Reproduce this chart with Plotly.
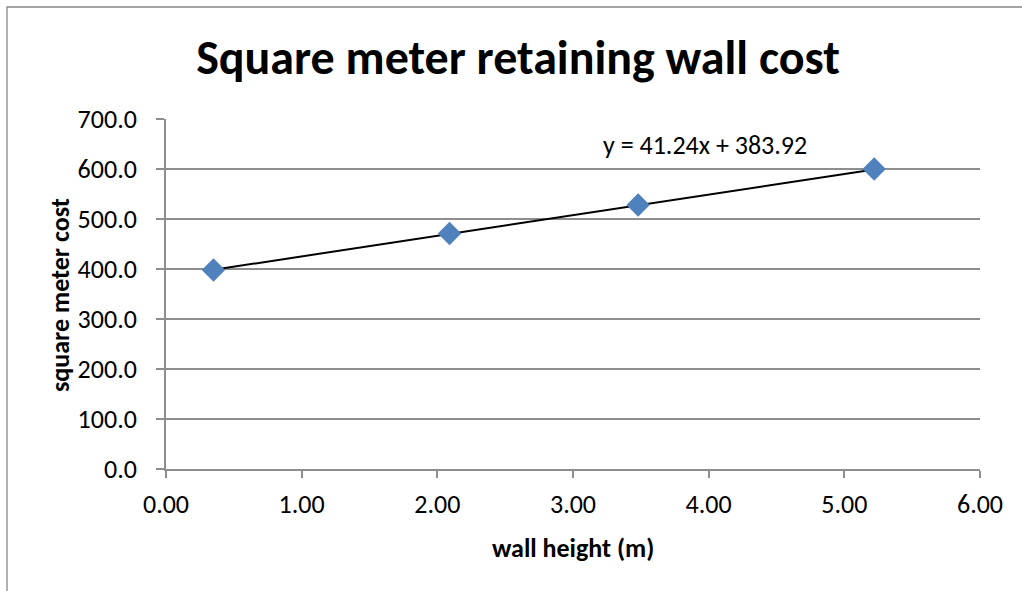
import plotly.graph_objects as go

wall_height = [0.35, 2.09, 3.48, 5.22]
sqm_cost = [398.0, 471.0, 528.0, 600.0]
slope = 41.24
intercept = 383.92
title = "Square meter retaining wall cost"
x_title = "wall height (m)"
y_title = "square meter cost"
equation = "y = 41.24x + 383.92"

FONT = "Carlito, Lato, sans-serif"
GRID = "#8e8e8e"
L, R, T, B = 166, 980, 119, 469
W, H = 1022, 591
PW, PH = R - L, B - T


def px(x):
    return (x - L) / PW


def py(y):
    return (B - y) / PH


trend_x = [min(wall_height), max(wall_height)]
trend_y = [slope * v + intercept for v in trend_x]

fig = go.Figure()
fig.add_trace(go.Scatter(x=trend_x, y=trend_y, mode="lines",
                         line=dict(color="black", width=2), hoverinfo="skip"))
fig.add_trace(go.Scatter(x=wall_height, y=sqm_cost, mode="markers",
                         marker=dict(symbol="diamond", size=18, color="#4F81BD",
                                     line=dict(width=0))))

fig.update_layout(
    width=W, height=H,
    margin=dict(l=L, r=W - R, t=T, b=H - B),
    paper_bgcolor="white", plot_bgcolor="white",
    showlegend=False,
    font=dict(family=FONT, color="black"),
    title=dict(text="<b>" + title + "</b>", x=518 / W, xanchor="center",
               xref="container",
               y=1 - 57 / H, yanchor="middle",
               font=dict(size=48, family=FONT, color="black")),
    xaxis=dict(range=[0, 6], tickvals=[0, 1, 2, 3, 4, 5, 6], tickformat=".2f",
               showgrid=False, zeroline=False, showline=True, linecolor=GRID,
               linewidth=1.8, ticks="outside", ticklen=7, tickcolor=GRID,
               tickwidth=1.8, ticklabelstandoff=4,
               tickfont=dict(size=26, family=FONT)),
    yaxis=dict(range=[0, 700], tickvals=[0, 100, 200, 300, 400, 500, 600, 700],
               tickformat=".1f", showgrid=True, gridcolor=GRID, gridwidth=1.8,
               zeroline=False, showline=True, linecolor=GRID, linewidth=1.8,
               ticks="outside", ticklen=8, tickcolor=GRID, tickwidth=1.8,
               ticklabelstandoff=14,
               tickfont=dict(size=26, family=FONT)),
)

fig.add_annotation(text=equation, xref="paper", yref="paper",
                   x=px(705), y=py(145), xanchor="center", yanchor="middle",
                   showarrow=False, font=dict(size=26, family=FONT))
fig.add_annotation(text="<b>" + x_title + "</b>", xref="paper", yref="paper",
                   x=px(573), y=py(548), xanchor="center", yanchor="middle",
                   showarrow=False, font=dict(size=26, family=FONT))
fig.add_annotation(text="<b>" + y_title + "</b>", xref="paper", yref="paper",
                   x=px(60), y=py(295), xanchor="center", yanchor="middle",
                   textangle=-90,
                   showarrow=False, font=dict(size=26, family=FONT))

fig.add_shape(type="rect", xref="paper", yref="paper",
              x0=px(7), x1=px(1100), y0=py(700), y1=py(7),
              line=dict(color="#868686", width=1.3), fillcolor="rgba(0,0,0,0)",
              layer="below")

fig.write_html("out.html", config={"displayModeBar": False},
               post_script="document.body.style.margin='0';document.body.style.overflow='hidden';")
